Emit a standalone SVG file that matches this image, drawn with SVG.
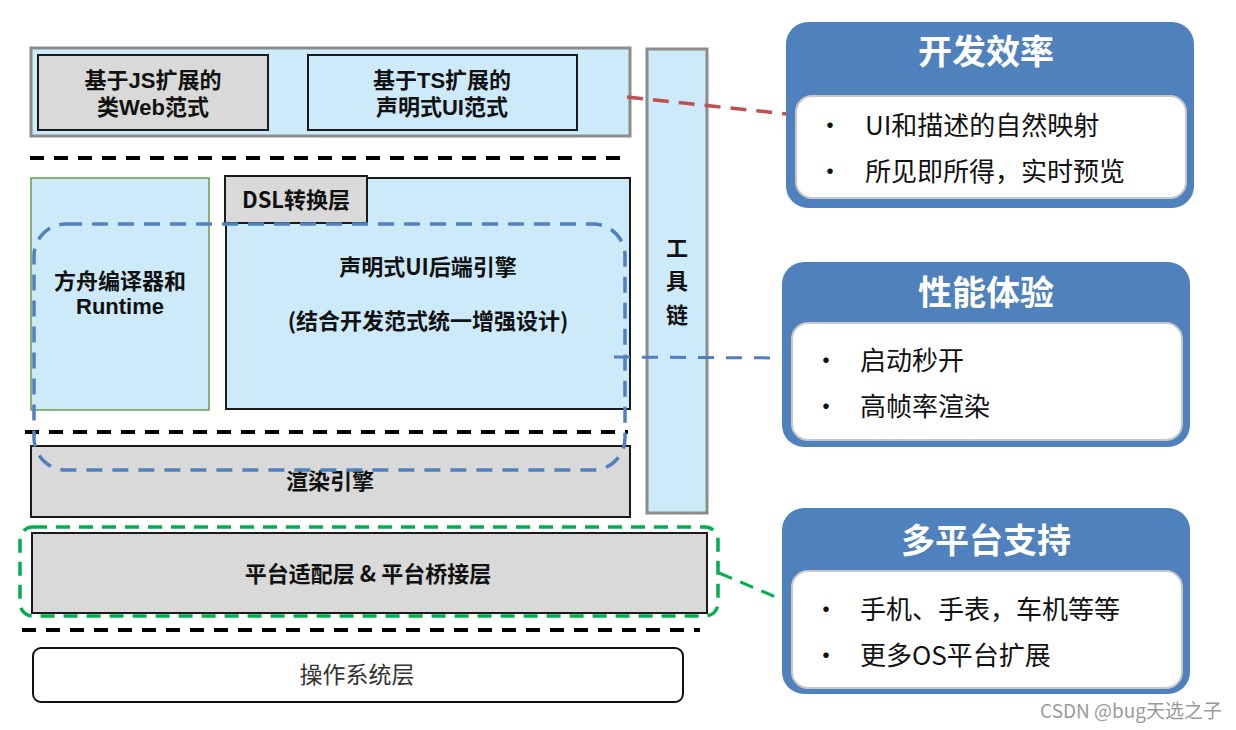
<svg xmlns="http://www.w3.org/2000/svg" width="1236" height="730" viewBox="0 0 1236 730">
<style>
.lb{fill:#cdeafb}
.gy{fill:#d9d9d9}
.bk{stroke:#1a1a1a;stroke-width:2}
.gs{stroke:#8c8c8c;stroke-width:3}
.t{font-family:"Noto Sans CJK SC","Noto Sans",sans-serif;font-weight:bold;font-size:22px;fill:#111;text-anchor:middle}
.t2{font-family:"Liberation Sans","Noto Sans CJK SC",sans-serif;font-weight:bold;font-size:22px;fill:#111;text-anchor:middle}
.n{font-family:"Noto Sans CJK SC","Noto Sans",sans-serif;font-size:23px;fill:#333;text-anchor:middle}
.panel{fill:#4f81bd}
.inner{fill:#fff;stroke:#c8c8c8;stroke-width:2}
.ttl{font-family:"Noto Sans CJK SC","Noto Sans",sans-serif;font-weight:bold;font-size:34px;fill:#fff;text-anchor:middle}
.it{font-family:"Noto Sans CJK SC","Noto Sans",sans-serif;font-size:26px;fill:#111}
.sep{fill:none;stroke:#000;stroke-width:4;stroke-dasharray:14 10}
</style>
<rect width="1236" height="730" fill="#fff"/>

<g id="top-layer">
<rect x="31" y="48" width="599" height="88" class="lb gs"/>
</g>
<g id="js-web">
<rect x="38" y="55" width="230" height="75" class="gy bk"/>
<text x="153" y="88" class="t2">基于JS扩展的</text>
<text x="153" y="115" class="t2">类Web范式</text>
</g>
<g id="ts-ui">
<rect x="308" y="55" width="269" height="75" class="lb bk"/>
<text x="442" y="88" class="t2">基于TS扩展的</text>
<text x="442" y="115" class="t2">声明式UI范式</text>
</g>

<g id="toolchain">
<rect x="647" y="49" width="60" height="464" class="lb gs"/>
<text x="677" y="256" class="t">工</text>
<text x="677" y="289" class="t">具</text>
<text x="677" y="323" class="t">链</text>
</g>

<g id="separators">
<line x1="30" y1="158" x2="628" y2="158" class="sep"/>
<line x1="25" y1="432" x2="628" y2="432" class="sep"/>
<line x1="22" y1="630" x2="700" y2="630" class="sep"/>
</g>

<g id="ark-compiler">
<rect x="31" y="178" width="178" height="232" class="lb" stroke="#6a9a4a" stroke-width="1.5"/>
<text x="120" y="289" class="t2">方舟编译器和</text>
<text x="120" y="314" class="t2">Runtime</text>
</g>

<g id="ui-backend">
<rect x="226" y="178" width="404" height="231" class="lb bk"/>
<text x="428" y="275" class="t">声明式UI后端引擎</text>
<text x="428" y="329" class="t">(结合开发范式统一增强设计)</text>
</g>
<g id="dsl">
<rect x="225" y="176" width="142" height="47" class="gy bk"/>
<text x="296" y="208" class="t">DSL转换层</text>
</g>

<g id="render-engine">
<rect x="31" y="446" width="599" height="71" class="gy bk"/>
<text x="330" y="489" class="t">渲染引擎</text>
</g>

<g id="platform">
<rect x="32" y="533" width="675" height="80" class="gy bk"/>
<text x="368" y="582" class="t" font-size="23">平台适配层 &amp; 平台桥接层</text>
</g>

<g id="os">
<rect x="33" y="648" width="650" height="54" rx="8" fill="#fff" stroke="#111" stroke-width="2"/>
<text x="357" y="683" class="n">操作系统层</text>
</g>

<g id="highlights">
<rect x="34" y="224" width="591" height="246" rx="32" fill="none" stroke="#4f81bd" stroke-width="3.5" stroke-dasharray="16 10"/>
<rect x="20" y="527" width="698" height="89" rx="13" fill="none" stroke="#00b050" stroke-width="3.5" stroke-dasharray="14 9"/>
</g>

<g id="connectors">
<line x1="627" y1="97" x2="787" y2="114" stroke="#c0504d" stroke-width="3.5" stroke-dasharray="16 10"/>
<line x1="614" y1="357" x2="792" y2="358" stroke="#4f81bd" stroke-width="3" stroke-dasharray="16 12"/>
<line x1="719" y1="573" x2="785" y2="601" stroke="#00b050" stroke-width="3" stroke-dasharray="14 9"/>
</g>

<g id="panel-dev">
<rect x="786" y="22" width="408" height="186" rx="22" class="panel"/>
<text x="986" y="64" class="ttl">开发效率</text>
<rect x="796" y="96" width="390" height="102" rx="16" class="inner"/>
<text x="817" y="135" class="it">•</text>
<text x="865" y="135" class="it">UI和描述的自然映射</text>
<text x="817" y="181" class="it">•</text>
<text x="865" y="181" class="it">所见即所得，实时预览</text>
</g>

<g id="panel-perf">
<rect x="782" y="262" width="408" height="185" rx="22" class="panel"/>
<text x="986" y="305" class="ttl">性能体验</text>
<rect x="792" y="323" width="390" height="117" rx="16" class="inner"/>
<text x="813" y="370" class="it">•</text>
<text x="860" y="370" class="it">启动秒开</text>
<text x="813" y="416" class="it">•</text>
<text x="860" y="416" class="it">高帧率渲染</text>
</g>

<g id="panel-multi">
<rect x="782" y="508" width="408" height="186" rx="22" class="panel"/>
<text x="986" y="553" class="ttl">多平台支持</text>
<rect x="792" y="571" width="390" height="117" rx="16" class="inner"/>
<text x="813" y="619" class="it">•</text>
<text x="860" y="619" class="it">手机、手表，车机等等</text>
<text x="813" y="665" class="it">•</text>
<text x="860" y="665" class="it">更多OS平台扩展</text>
</g>

<text x="1222" y="718" text-anchor="end" font-family="'Noto Sans CJK SC','Noto Sans',sans-serif" font-size="19" fill="#9a9a9a">CSDN @bug天选之子</text>
</svg>
